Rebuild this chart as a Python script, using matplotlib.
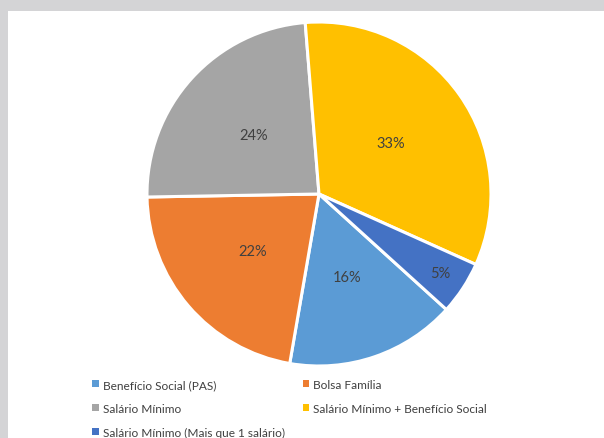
import matplotlib.pyplot as plt
from matplotlib.patches import Rectangle, Patch

# dados do grafico
categorias = ['Benefício Social (PAS)', 'Bolsa Família', 'Salário Mínimo',
              'Salário Mínimo + Benefício Social', 'Salário Mínimo (Mais que 1 salário)']
valores = [16, 22, 24, 33, 5]
cores = ['#5B9BD5', '#ED7D31', '#A5A5A5', '#FFC000', '#4472C4']

plt.rcParams['font.family'] = ['Lato', 'DejaVu Sans']

fig = plt.figure(figsize=[6.04, 4.39], dpi=100)
fig.patch.set_facecolor('white')

# moldura cinza (topo e esquerda)
fig.patches.append(Rectangle((0, 427 / 439), 1, 12 / 439, transform=fig.transFigure,
                             facecolor='#d4d4d6', edgecolor='none', zorder=0))
fig.patches.append(Rectangle((0, 0), 8 / 604, 1, transform=fig.transFigure,
                             facecolor='#d4d4d6', edgecolor='none', zorder=0))

cx, cy, r = 319 / 604, (439 - 195) / 439, 172
ax = fig.add_axes([cx - r / 604, cy - r / 439, 2 * r / 604, 2 * r / 439])

wedges, textos, pcts = ax.pie(valores, colors=cores, startangle=-42.2, counterclock=False,
                              autopct='%1.0f%%', pctdistance=0.51,
                              wedgeprops=dict(edgecolor='white', linewidth=2.2),
                              textprops=dict(color='#404040', fontsize=10.5))
# rotulo do 5% fica mais para fora
x, y = pcts[4].get_position()
pcts[4].set_position((x * 0.84 / 0.51, y * 0.84 / 0.51))
ax.set_xlim(-1, 1)
ax.set_ylim(-1, 1)
ax.set_aspect('equal')

ordem = [0, 2, 4, 1, 3]
handles = [Patch(facecolor=cores[i], edgecolor='none') for i in ordem]
labels = [categorias[i] for i in ordem]
fig.legend(handles, labels, ncol=2, loc='upper left', bbox_to_anchor=(86 / 604, 1 - 374 / 439),
           frameon=False, fontsize=8.6, handlelength=0.55, handleheight=0.55, handletextpad=0.35,
           columnspacing=1.5, labelspacing=1.08, labelcolor='#404040', borderpad=0)

fig.savefig('out.png', dpi=100)
